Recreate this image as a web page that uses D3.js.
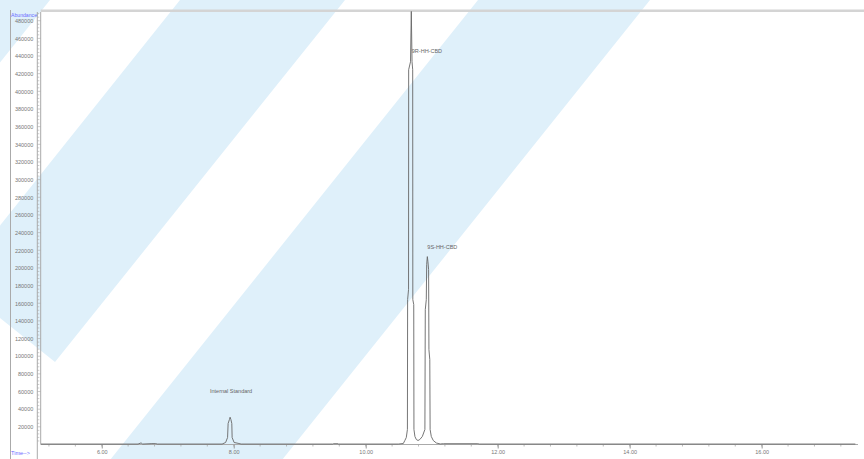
<!DOCTYPE html>
<html>
<head>
<meta charset="utf-8">
<script src="https://cdn.jsdelivr.net/npm/d3@7"></script>
<style>
  body { margin: 0; background: #fff; }
  text { font-family: 'Liberation Sans', Arial, sans-serif; }
</style>
</head>
<body>
<div id="chart"></div>
<script>
// chromatogram trace (time in min, abundance)
const scanTimes = [
    5.08, 6.55, 6.596, 6.62, 6.76, 6.82, 6.84,
    7.824, 7.877, 7.907, 7.915, 7.935, 7.945, 7.957, 7.971, 7.976, 8.006, 8.066, 8.112,
    9.50, 9.51, 9.58, 9.59,
    10.494, 10.570, 10.593, 10.615, 10.632, 10.635, 10.649, 10.651, 10.679, 10.691,
    10.702, 10.712, 10.714, 10.728, 10.731, 10.746, 10.767, 10.793, 10.820, 10.858,
    10.897, 10.903, 10.918, 10.924, 10.934, 10.943, 10.953, 10.958, 10.971, 10.976,
    10.994, 11.024, 11.070, 11.130, 11.176, 11.70, 11.72, 17.42
];
const abundance = [
    500, 500, 1800, 500, 1000, 1000, 500,
    500, 2260, 7920, 23800, 28300, 30900, 28300, 23800, 7920, 2260, 1360, 500,
    500, 900, 900, 500,
    500, 1130, 4530, 7920, 17000, 164100, 175400, 424500, 433500, 490500,
    433500, 424500, 164100, 158500, 17000, 9060, 5660, 4530, 5660, 9060,
    17000, 152800, 164100, 203700, 212800, 207100, 198100, 107500, 96200, 17000,
    9060, 4530, 1700, 600, 900, 900, 500, 500
];

// peak annotations
const peakNames = ['Internal Standard', '9R-HH-CBD', '9S-HH-CBD'];
const peakTimes = [7.945, 10.691, 10.934];
const peakHeights = [30900, 490500, 212800];

// axis ticks
const timeTicks = [6, 8, 10, 12, 14, 16];
const abundanceTicks = d3.range(20000, 480001, 20000);

// FIGURE DIMENSIONS
const FIGURE = { WIDTH: 864, HEIGHT: 459 };
const PLOT = { LEFT: 40.7, RIGHT: 858, TOP: 11, BOTTOM: 444.5 };

const x = d3.scaleLinear()
    .domain([5.075, 17.46])
    .range([PLOT.LEFT, PLOT.RIGHT]);

const y = d3.scaleLinear()
    .domain([0, 491000])
    .range([PLOT.BOTTOM, PLOT.TOP]);

const svg = d3.select('#chart')
    .append('svg')
        .attr('width', FIGURE.WIDTH)
        .attr('height', FIGURE.HEIGHT);

svg.append('rect')
    .attr('width', FIGURE.WIDTH)
    .attr('height', FIGURE.HEIGHT)
    .attr('fill', '#fff');

// watermark stripes (light blue diagonal bands)
const stripes = [
    [[-250, 0], [50, 0], [-50, 125], [-350, 125]],
    [[180, 0], [345, 0], [55, 362], [-45, 282]],
    [[478, 0], [650, 0], [250, 500], [78, 500]]
];
svg.append('g')
    .selectAll('polygon')
    .data(stripes)
    .enter()
    .append('polygon')
        .attr('points', d => d.map(p => p.join(',')).join(' '))
        .attr('fill', '#dff0fa');

// frame lines
const frame = svg.append('g')
    .attr('stroke', '#aaa')
    .attr('fill', 'none');
frame.append('rect')
    .attr('x', PLOT.LEFT).attr('y', 9.5)
    .attr('width', FIGURE.WIDTH - PLOT.LEFT).attr('height', 2.5)
    .attr('fill', '#d4d4d4').attr('stroke', 'none');
frame.append('line')
    .attr('x1', 10.5).attr('x2', 10.5).attr('y1', 10).attr('y2', FIGURE.HEIGHT);
frame.append('line')
    .attr('x1', 37.3).attr('x2', 37.3).attr('y1', 12).attr('y2', FIGURE.HEIGHT);
frame.append('line')
    .attr('x1', PLOT.LEFT).attr('x2', PLOT.LEFT).attr('y1', 12).attr('y2', PLOT.BOTTOM);
frame.append('line')
    .attr('x1', PLOT.LEFT).attr('x2', PLOT.RIGHT).attr('y1', PLOT.BOTTOM).attr('y2', PLOT.BOTTOM);

// y ruler: minor and major ticks between the two vertical lines
frame.append('g')
    .selectAll('line')
    .data(d3.range(4000, 490000, 4000))
    .enter()
    .append('line')
        .attr('x1', 37.3)
        .attr('x2', d => d % 20000 === 0 ? PLOT.LEFT : 39.3)
        .attr('y1', d => y(d))
        .attr('y2', d => y(d))
        .attr('stroke-width', 0.6);

const yAxis = d3.axisLeft(y)
    .tickValues(abundanceTicks)
    .tickFormat(d3.format('d'))
    .tickSize(0)
    .tickPadding(4);

svg.append('g')
    .attr('class', 'yAxis')
    .attr('transform', 'translate(37.3,0)')
    .call(yAxis)
    .call(g => g.select('.domain').remove())
    .call(g => g.selectAll('text')
        .attr('font-size', 5.5)
        .attr('font-family', "'Liberation Sans', Arial, sans-serif")
        .attr('fill', '#777'));

// x axis ticks
frame.append('g')
    .selectAll('line')
    .data(d3.range(5.2, 17.45, 0.4))
    .enter()
    .append('line')
        .attr('x1', d => x(d))
        .attr('x2', d => x(d))
        .attr('y1', PLOT.BOTTOM)
        .attr('y2', PLOT.BOTTOM + 2)
        .attr('stroke-width', 0.8);

const xAxis = d3.axisBottom(x)
    .tickValues(timeTicks)
    .tickFormat(d3.format('.2f'))
    .tickSize(4)
    .tickPadding(2);

svg.append('g')
    .attr('class', 'xAxis')
    .attr('transform', `translate(0,${PLOT.BOTTOM})`)
    .call(xAxis)
    .call(g => g.select('.domain').remove())
    .call(g => g.selectAll('line').attr('stroke', '#999'))
    .call(g => g.selectAll('text')
        .attr('font-size', 5.5)
        .attr('font-family', "'Liberation Sans', Arial, sans-serif")
        .attr('fill', '#777'));

// axis titles
svg.append('text')
    .attr('x', 11).attr('y', 17)
    .attr('font-size', 5.5)
    .attr('fill', '#6a6aff')
    .attr('textLength', 26)
    .attr('lengthAdjust', 'spacingAndGlyphs')
    .text('Abundance');

svg.append('text')
    .attr('x', 11).attr('y', 455)
    .attr('font-size', 5.5)
    .attr('fill', '#6a6aff')
    .text('Time-->');

// chromatogram trace
const trace = d3.zip(scanTimes, abundance);
const line = d3.line()
    .x(d => x(d[0]))
    .y(d => y(d[1]));

svg.append('path')
    .datum(trace)
    .attr('d', line)
    .attr('fill', 'none')
    .attr('stroke', '#666')
    .attr('stroke-width', 0.9);

// peak labels
const labelStyle = [
    { anchor: 'middle', dx: 1, dy: -24 },
    { anchor: 'start', dx: 0.5, dy: 42 },
    { anchor: 'start', dx: 0, dy: -8 }
];
svg.append('g')
    .selectAll('text')
    .data(peakNames)
    .enter()
    .append('text')
        .attr('x', (d, i) => x(peakTimes[i]) + labelStyle[i].dx)
        .attr('y', (d, i) => y(peakHeights[i]) + labelStyle[i].dy)
        .attr('text-anchor', (d, i) => labelStyle[i].anchor)
        .attr('font-size', 5.5)
        .attr('fill', '#666')
        .text(d => d);
</script>
</body>
</html>
